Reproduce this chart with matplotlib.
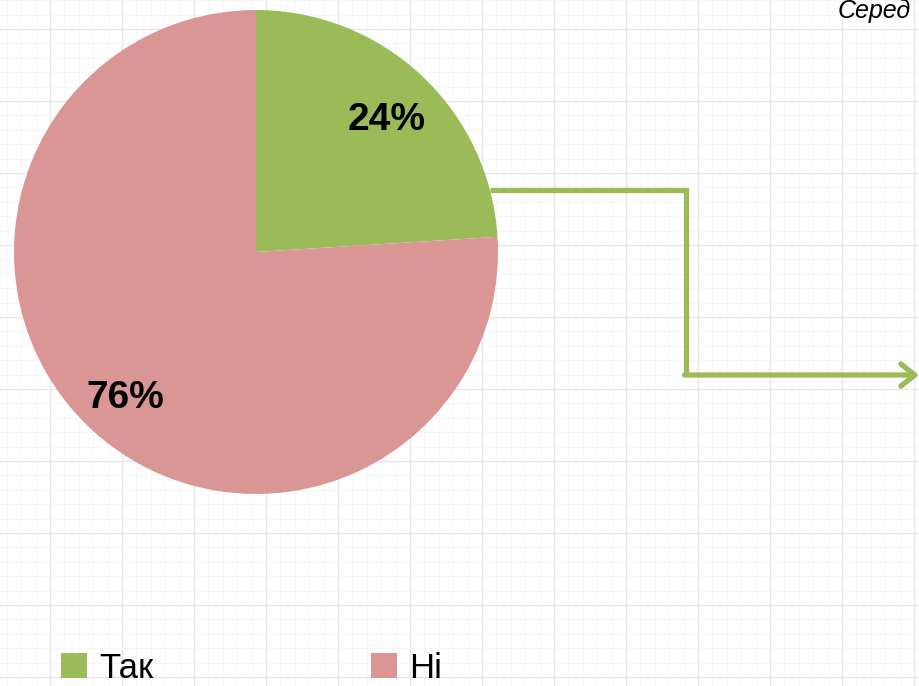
import matplotlib.pyplot as plt
import numpy as np

labels = ['Так', 'Ні']
values = [24, 76]
colors = ['#9BBB59', '#D99694']
note = 'Серед'

W, H = 920, 686
fig = plt.figure(figsize=(W / 100, H / 100), dpi=100)
ax = fig.add_axes([0, 0, 1, 1])

# graph-paper background
for x in np.arange(50 - 72, W, 72 / 5):
    major = abs(((x - 50) / 72) - round((x - 50) / 72)) < 1e-6
    ax.axvline(x, color='#e6e6e6' if major else '#f5f5f5', lw=1.0 if major else 0.6, zorder=0)
for y in np.arange(29 - 72, H, 72 / 5):
    major = abs(((y - 29) / 72) - round((y - 29) / 72)) < 1e-6
    ax.axhline(H - y, color='#e6e6e6' if major else '#f5f5f5', lw=1.0 if major else 0.6, zorder=0)

wedges, _, autotexts = ax.pie(values, colors=colors, startangle=90, counterclock=False,
                              center=(256, H - 252), radius=242, autopct='%d%%',
                              pctdistance=0.79, frame=True,
                              textprops=dict(fontsize=28, fontweight='bold',
                                             family=['Liberation Sans', 'DejaVu Sans']))
for t in autotexts:
    px, py = t.get_position()
    t.set_position((px, py - 7))
ax.set_xlim(0, W)
ax.set_ylim(0, H)
ax.set_aspect('equal')
ax.axis('off')

# connector arrow
green = colors[0]
ax.plot([490, 686, 686], [H - 190, H - 190, H - 375], color=green, lw=3.8,
        solid_joinstyle='miter', solid_capstyle='butt')
ax.annotate('', xy=(919, H - 375), xytext=(684.6, H - 375),
            arrowprops=dict(arrowstyle='->,head_length=1.0,head_width=0.8',
                            color=green, lw=3.8, shrinkA=0, shrinkB=0))

ax.text(838, H - 11, note, fontsize=18, fontstyle='italic', va='center', ha='left',
        family=['Liberation Sans', 'DejaVu Sans'])

leg = ax.legend(wedges, labels, loc='lower left', bbox_to_anchor=(30 / W, -30 / H),
                ncol=2, frameon=False, handlelength=0.75, handleheight=0.75,
                handletextpad=0.35, columnspacing=6.25,
                prop=dict(size=25, family=['Liberation Sans', 'DejaVu Sans']))

fig.savefig('out.png', dpi=100)
